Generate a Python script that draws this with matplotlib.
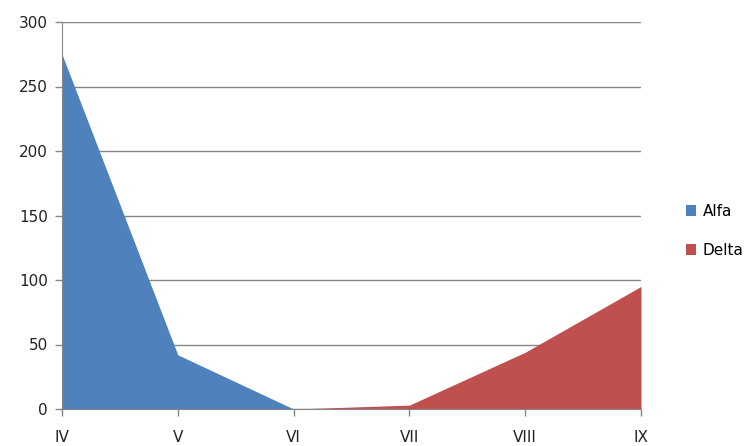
import matplotlib
matplotlib.use("Agg")
import matplotlib.pyplot as plt
from matplotlib.patches import Patch

categories = ["IV", "V", "VI", "VII", "VIII", "IX"]
alfa = [275, 42, 0, 0, 0, 0]
delta = [0, 0, 0, 3, 44, 95]
series_names = ["Alfa", "Delta"]
colors = ["#4F81BD", "#C0504D"]
yticks = [0, 50, 100, 150, 200, 250, 300]

fig = plt.figure(figsize=(7.49, 4.46), dpi=100)
ax = fig.add_axes([62/749, 1-409/446, (641-62)/749, (409-22)/446])
x = list(range(len(categories)))
ax.fill_between(x, 0, alfa, color=colors[0], linewidth=0, zorder=3)
ax.fill_between(x, 0, delta, color=colors[1], linewidth=0, zorder=3)

ax.set_xlim(0, len(categories)-1)
ax.set_ylim(0, 300)
ax.set_yticks(yticks)
ax.set_xticks(x)
ax.set_xticklabels(categories)
ax.yaxis.grid(True, color="#868686", linewidth=1)
ax.set_axisbelow(True)
for s in ["top", "right"]:
    ax.spines[s].set_visible(False)
for s in ["left", "bottom"]:
    ax.spines[s].set_color("#868686")
    ax.spines[s].set_zorder(4)
ax.tick_params(axis="both", colors="#868686", labelcolor="#222222", labelsize=11, length=5, width=1)
ax.tick_params(axis="x", pad=10)
ax.tick_params(axis="y", pad=5)

handles = [Patch(facecolor=c, edgecolor="none") for c in colors]
fig.legend(handles, series_names, loc="center left", bbox_to_anchor=(672/749, 1-231/446),
           frameon=False, fontsize=11, handlelength=0.7, handleheight=0.7,
           handletextpad=0.4, labelspacing=1.55)

fig.savefig("out.png", dpi=100)
